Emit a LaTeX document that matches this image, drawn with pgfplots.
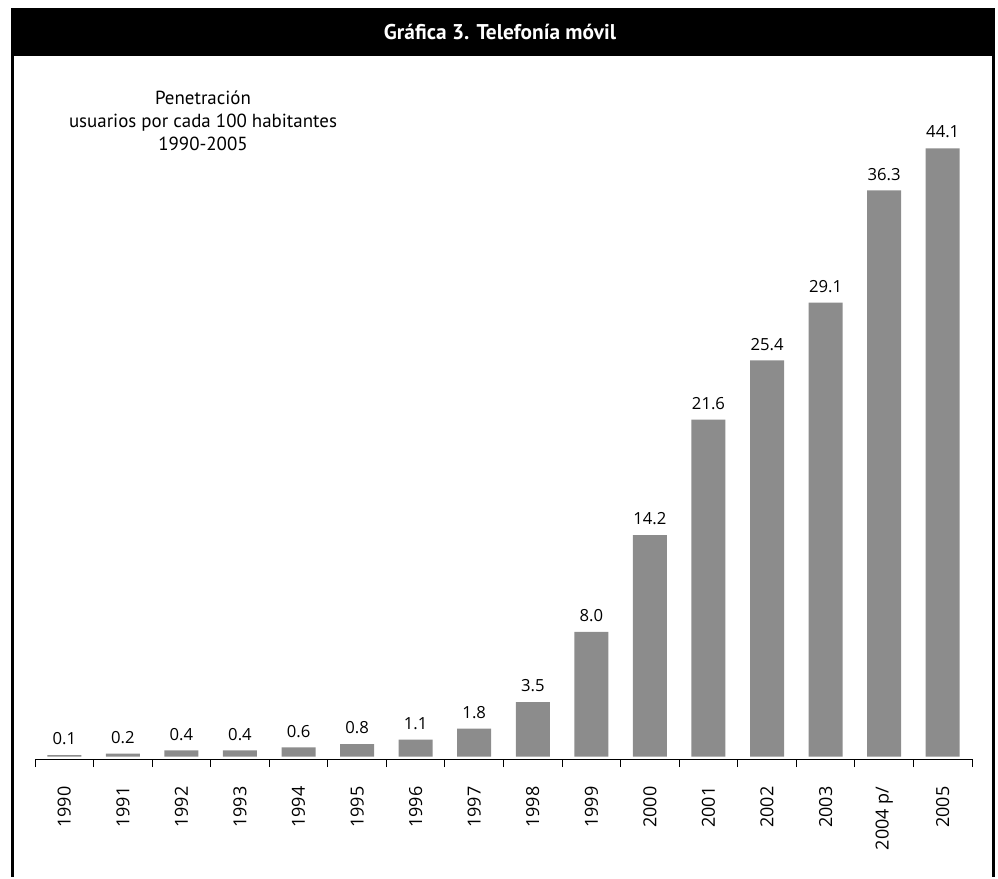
\documentclass[border=0pt]{standalone}
\usepackage{pgfplots}
\pgfplotsset{compat=1.18}
\usepackage{pgfplotstable}
\usepackage{fontspec}
\setmainfont{Open Sans}
\newfontfamily\ptsans{PT Sans}
\definecolor{bargray}{RGB}{140,140,140}

\pgfplotstableread{
x h lab
0 0.1 0.1
1 0.2 0.2
2 0.4 0.4
3 0.4 0.4
4 0.6 0.6
5 0.8 0.8
6 1.1 1.1
7 1.8 1.8
8 3.5 3.5
9 8.0 8.0
10 14.2 14.2
11 21.6 21.6
12 25.4 25.4
13 29.1 29.1
14 36.3 36.3
15 39.0 44.1
}\datatable

\begin{document}
\begin{tikzpicture}
\begin{scope}[x=0.75pt,y=-0.75pt]
\path (0,0) rectangle (998,877);
\fill[black] (11,8) rectangle (995,56);
\draw[line width=2.25pt] (12.5,56) -- (12.5,877);
\draw[line width=2.25pt] (993.5,56) -- (993.5,877);
\node[text=white, font=\ptsans\bfseries\fontsize{16}{18}\selectfont] at (500,32) {Gráfica 3. Telefonía móvil};
\node[anchor=base, font=\ptsans\fontsize{14.2}{16}\selectfont] at (203,105) {Penetración};
\node[anchor=base, font=\ptsans\fontsize{14.2}{16}\selectfont] at (203,128) {usuarios por cada 100 habitantes};
\node[anchor=base, font=\ptsans\fontsize{14.2}{16}\selectfont] at (203,151) {1990-2005};
\end{scope}
\begin{axis}[
  at={(26.25pt,-569.25pt)}, anchor=south west,
  scale only axis,
  width=702.75pt, height=494.25pt,
  xmin=-0.5, xmax=15.5,
  ymin=-0.15, ymax=42.094,
  axis x line*=bottom,
  axis y line=none,
  axis line style={line width=0.7pt},
  ybar, bar width=25.5pt,
  xtick={0,...,15},
  xticklabels={1990,1991,1992,1993,1994,1995,1996,1997,1998,1999,2000,2001,2002,2003,2004 p/,2005},
  minor xtick={-0.5,0.5,...,15.5},
  major tick length=0pt,
  minor tick length=6pt,
  tick align=outside,
  tick style={black, line width=0.7pt},
  xticklabel style={rotate=90, anchor=east, inner sep=0pt, font=\fontsize{13.5}{15}\selectfont},
  xticklabel shift=20.5pt,
  nodes near coords,
  point meta=explicit symbolic,
  nodes near coords style={font=\fontsize{12.5}{14}\selectfont, yshift=4pt},
  clip=false,
]
\addplot[fill=bargray, draw=none] table[x=x, y=h, meta=lab] {\datatable};
\end{axis}
\end{tikzpicture}
\end{document}
